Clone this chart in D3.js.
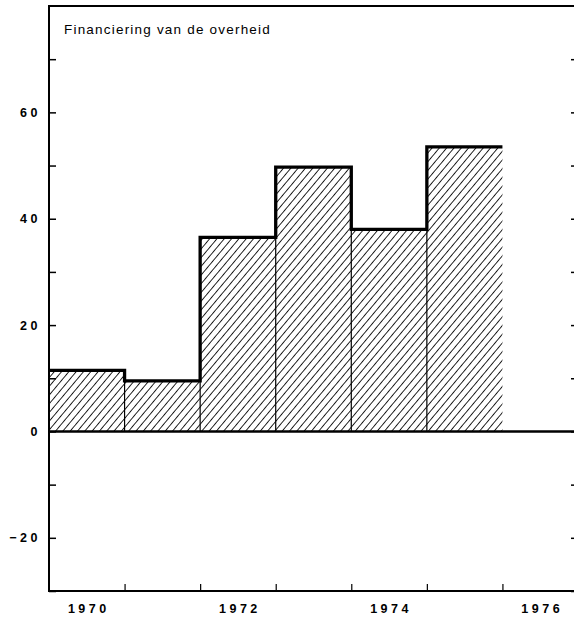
<!DOCTYPE html>
<html>
<head>
<meta charset="utf-8">
<script src="https://cdn.jsdelivr.net/npm/d3@7"></script>
<style>
  body { margin: 0; background: #fff; }
  text { font-family: "Liberation Sans", Arial, sans-serif; fill: #000; }
  .tick-label { font-size: 12.5px; font-weight: bold; letter-spacing: 3.5px; }
</style>
</head>
<body>
<div id="chart"></div>
<script>
/*chart data*/
var years = [1970, 1971, 1972, 1973, 1974, 1975];
var values = [11.5, 9.5, 36.5, 49.7, 38, 53.5];
var yTickValues = [-30, -20, -10, 0, 10, 20, 30, 40, 50, 60, 70];
var yLabelValues = [-20, 0, 20, 40, 60];
var xLabelYears = [1970, 1972, 1974, 1976];
var title = "Financiering van de overheid";

var svgWidth = 574, svgHeight = 618;
var margin = {top: 6, left: 49, bottom: 27};

var svg = d3.select("#chart").append("svg")
  .attr("width", svgWidth)
  .attr("height", svgHeight);

/*scales: x in years (each bar spans one year), y in value units*/
var xScale = d3.scaleLinear().domain([1970, 1977]).range([margin.left, 578]);
var yScale = d3.scaleLinear().domain([-30, 80]).range([svgHeight - margin.bottom, margin.top]);

/*hatch pattern*/
var defs = svg.append("defs");
defs.append("pattern")
  .attr("id", "hatch")
  .attr("patternUnits", "userSpaceOnUse")
  .attr("width", 5.6)
  .attr("height", 10)
  .attr("patternTransform", "rotate(40)")
  .append("line")
  .attr("x1", 0).attr("y1", 0)
  .attr("x2", 0).attr("y2", 10)
  .attr("stroke", "#000")
  .attr("stroke-width", 1.7);

/*hatched bars*/
svg.selectAll(".bar")
  .data(years)
  .enter()
  .append("rect")
  .attr("class", "bar")
  .attr("x", d => xScale(d))
  .attr("width", d => xScale(d + 1) - xScale(d))
  .attr("y", (d, i) => yScale(values[i]))
  .attr("height", (d, i) => yScale(0) - yScale(values[i]))
  .attr("fill", "url(#hatch)");

/*thin dividers between bars, up to the lower of the two neighbours*/
svg.selectAll(".divider")
  .data(years.slice(1))
  .enter()
  .append("line")
  .attr("x1", d => xScale(d)).attr("x2", d => xScale(d))
  .attr("y1", yScale(0))
  .attr("y2", (d, i) => yScale(Math.min(values[i], values[i + 1])))
  .attr("stroke", "#000")
  .attr("stroke-width", 1.2);

/*thick step outline along the tops*/
var stepPoints = [];
years.forEach(function(y, i) {
  stepPoints.push([xScale(y), yScale(values[i])]);
  stepPoints.push([xScale(y + 1), yScale(values[i])]);
});
svg.append("path")
  .attr("d", d3.line()(stepPoints))
  .attr("fill", "none")
  .attr("stroke", "#000")
  .attr("stroke-width", 3.3);

/*frame: left, top, bottom, right*/
var x0 = xScale(1970), x1 = xScale(1977);
var yTop = yScale(80), yBot = yScale(-30);
svg.append("path")
  .attr("d", `M${x0},${yBot} L${x0},${yTop} L${x1},${yTop} L${x1},${yBot} Z`)
  .attr("fill", "none")
  .attr("stroke", "#000")
  .attr("stroke-width", 2);

/*zero line*/
svg.append("line")
  .attr("x1", x0).attr("x2", x1)
  .attr("y1", yScale(0)).attr("y2", yScale(0))
  .attr("stroke", "#000")
  .attr("stroke-width", 2.5);

/*y ticks pointing inward on both sides*/
svg.append("g")
  .attr("transform", `translate(${x0},0)`)
  .call(d3.axisRight(yScale).tickValues(yTickValues).tickSize(7).tickFormat(""))
  .call(g => g.select(".domain").remove())
  .selectAll("line").attr("stroke", "#000").attr("stroke-width", 1.5);

svg.append("g")
  .attr("transform", `translate(${x1},0)`)
  .call(d3.axisLeft(yScale).tickValues(yTickValues).tickSize(7).tickFormat(""))
  .call(g => g.select(".domain").remove())
  .selectAll("line").attr("stroke", "#000").attr("stroke-width", 1.5);

/*x ticks on year boundaries, pointing up*/
svg.append("g")
  .attr("transform", `translate(0,${yBot})`)
  .call(d3.axisTop(xScale).tickValues(d3.range(1971, 1977)).tickSize(7).tickFormat(""))
  .call(g => g.select(".domain").remove())
  .selectAll("line").attr("stroke", "#000").attr("stroke-width", 1.2);

/*y labels*/
svg.selectAll(".ylabel")
  .data(yLabelValues)
  .enter()
  .append("text")
  .attr("class", "tick-label")
  .attr("text-anchor", "end")
  .attr("x", 41)
  .attr("y", d => yScale(d))
  .attr("dy", "0.36em")
  .text(d => d < 0 ? "\u2212" + Math.abs(d) : d);

/*x labels, centred on the year*/
svg.selectAll(".xlabel")
  .data(xLabelYears)
  .enter()
  .append("text")
  .attr("class", "tick-label")
  .attr("text-anchor", "middle")
  .attr("x", d => xScale(d + 0.5) + 2)
  .attr("y", 613)
  .text(d => d);

/*title*/
svg.append("text")
  .attr("x", 64)
  .attr("y", 34)
  .style("font-size", "13.5px")
  .style("letter-spacing", "1.2px")
  .text(title);
</script>
</body>
</html>
